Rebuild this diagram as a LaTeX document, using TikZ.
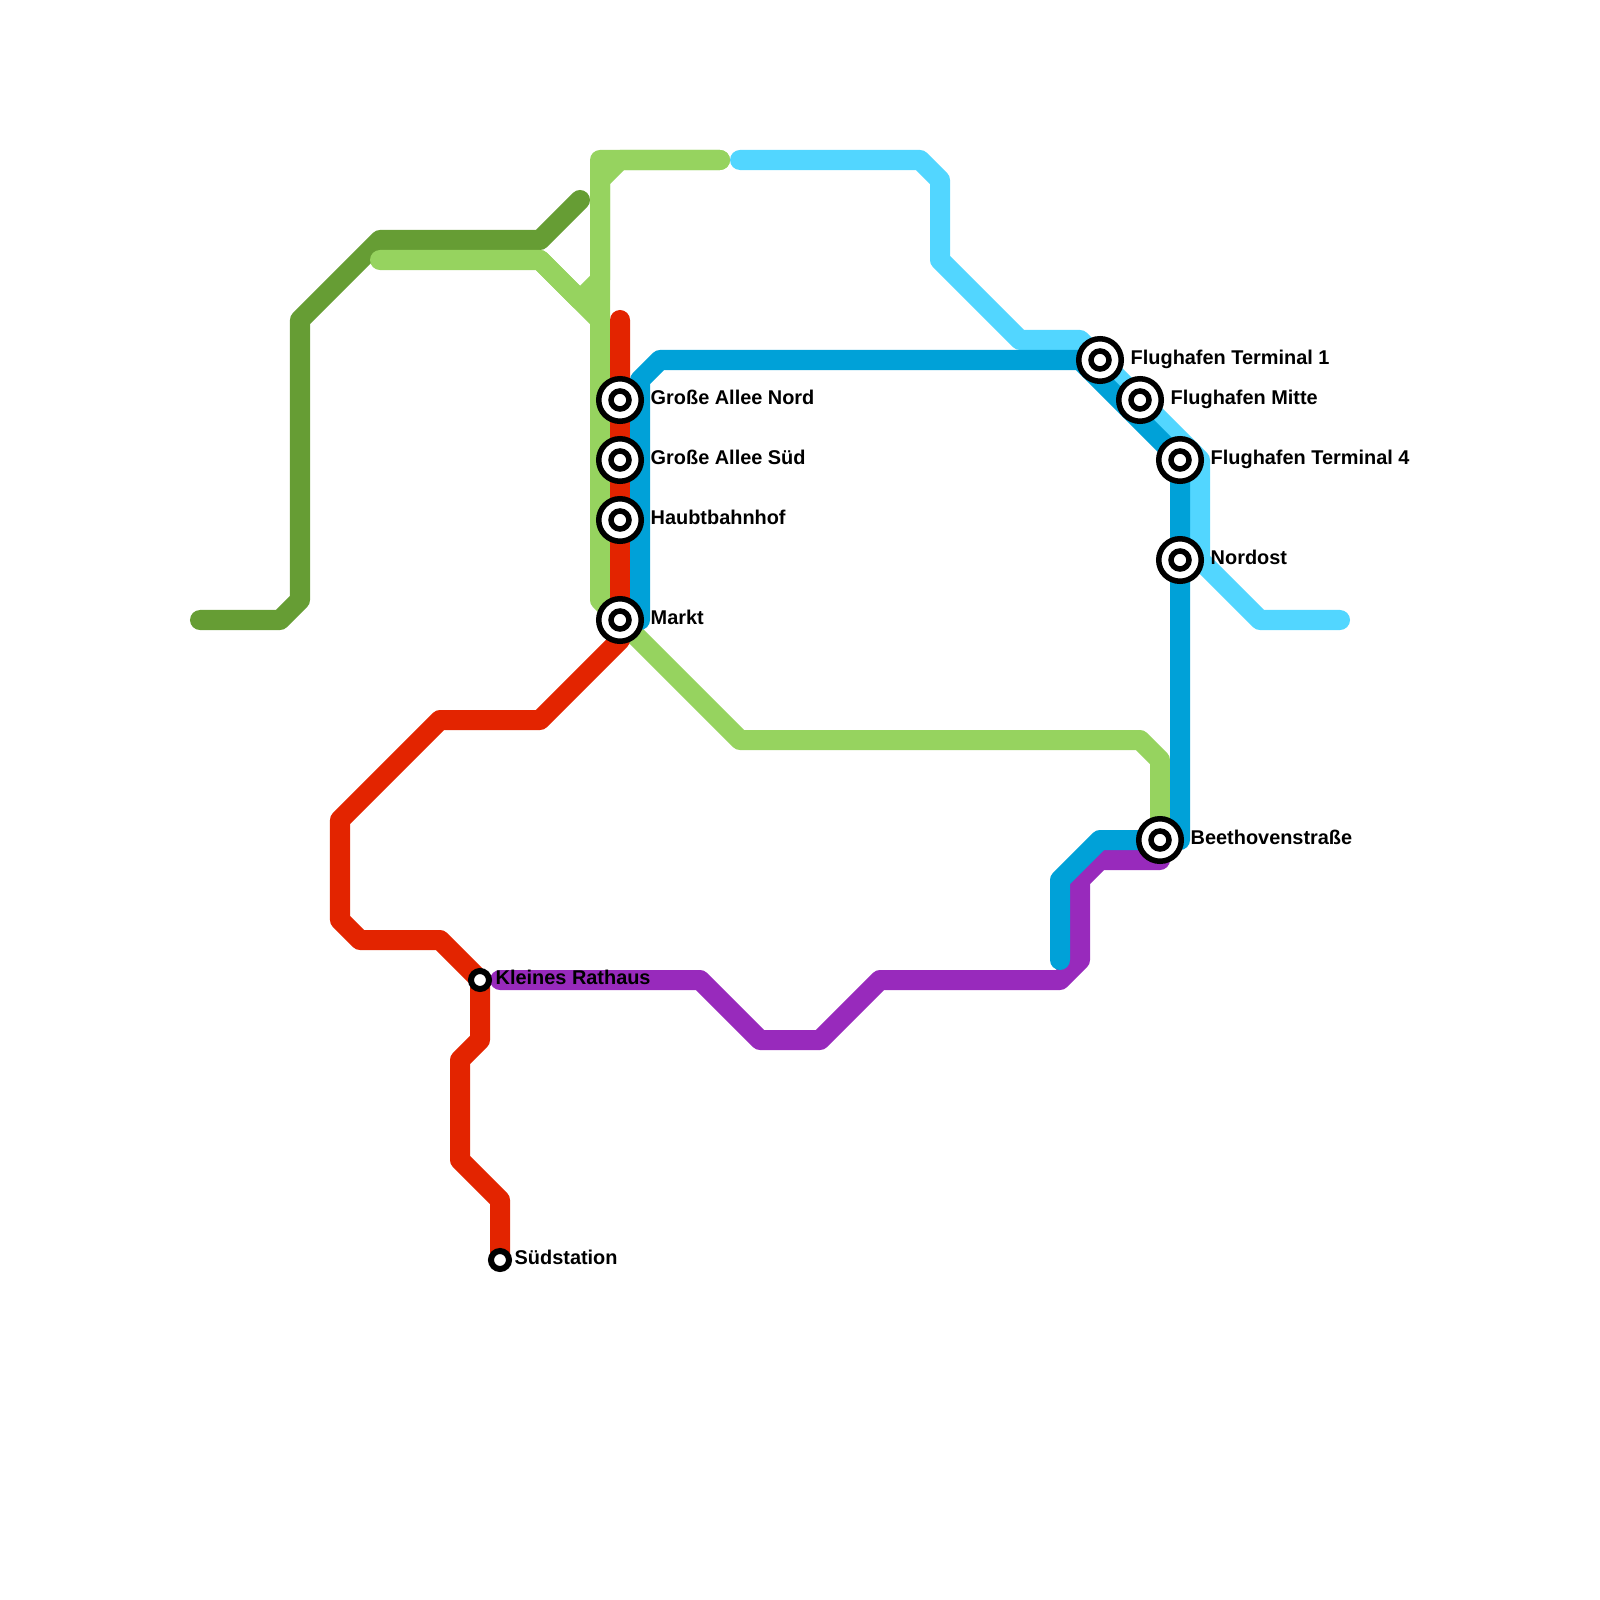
\documentclass[tikz,border=0pt]{standalone}
\usepackage{fontspec}
\setmainfont{Liberation Sans}
\usetikzlibrary{positioning}

\definecolor{redline}{HTML}{E32400}
\definecolor{blueline}{HTML}{00A1D8}
\definecolor{skyline}{HTML}{52D6FF}
\definecolor{limeline}{HTML}{96D35F}
\definecolor{mossline}{HTML}{669D34}
\definecolor{plumline}{HTML}{982ABC}

\begin{document}
\begin{tikzpicture}[
  x=0.01cm,y=-0.01cm,
  every node/.style={font=\fontsize{5.66pt}{6.5pt}\bfseries},
  track/.style={line width=0.2cm,line cap=round,line join=round},
  hub/.style={circle,draw=black,fill=white,line width=0.055cm,minimum size=0.425cm,inner sep=0pt,outer sep=0pt,
    path picture={\draw[line width=0.055cm,fill=white] (path picture bounding box.center) circle (9);}},
  stop/.style={circle,draw=black,fill=white,line width=0.06cm,minimum size=0.18cm,inner sep=0pt,outer sep=0pt},
  lbl/.style={inner sep=0pt,text height=0.15cm,text depth=0.06cm}
]
\useasboundingbox (0,0) rectangle (1600,1600);

\draw[track,mossline] (200,620) -- (280,620) -- (300,600) -- (300,320) -- (380,240) -- (540,240) -- (580,200);
\draw[track,limeline] (380,260) -- (540,260) -- (580,300) -- (600,280) -- (600,160) -- (720,160);
\draw[track,limeline] (540,260) -- (600,320);
\draw[track,limeline] (720,160) -- (620,160) -- (600,180) -- (600,600) -- (740,740) -- (1140,740) -- (1160,760) -- (1160,840);
\draw[track,skyline] (740,160) -- (920,160) -- (940,180) -- (940,260) -- (1020,340) -- (1080,340) -- (1200,460) -- (1200,560) -- (1260,620) -- (1340,620);
\draw[track,redline] (620,320) -- (620,640) -- (540,720) -- (440,720) -- (340,820) -- (340,920) -- (360,940) -- (440,940) -- (480,980) -- (480,1040) -- (460,1060) -- (460,1160) -- (500,1200) -- (500,1260);
\draw[track,plumline] (500,980) -- (700,980) -- (760,1040) -- (820,1040) -- (880,980) -- (1060,980) -- (1080,960) -- (1080,880) -- (1100,860) -- (1160,860);
\draw[track,blueline] (620,620) -- (640,620) -- (640,380) -- (660,360) -- (1080,360) -- (1180,460) -- (1180,840) -- (1100,840) -- (1060,880) -- (1060,960);

\node[hub] (alleenord) at (620,400) {};
\node[hub] (alleesued) at (620,460) {};
\node[hub] (haubt) at (620,520) {};
\node[hub] (markt) at (620,620) {};
\node[hub] (term1) at (1100,360) {};
\node[hub] (mitte) at (1140,400) {};
\node[hub] (term4) at (1180,460) {};
\node[hub] (nordost) at (1180,560) {};
\node[hub] (beethoven) at (1160,840) {};
\node[stop] (rathaus) at (480,980) {};
\node[stop] (suedst) at (500,1260) {};

\node[lbl, right=0.0875cm of alleenord] {Große Allee Nord};
\node[lbl, right=0.0875cm of alleesued] {Große Allee Süd};
\node[lbl, right=0.0875cm of haubt] {Haubtbahnhof};
\node[lbl, right=0.0875cm of markt] {Markt};
\node[lbl, right=0.0875cm of term1] {Flughafen Terminal 1};
\node[lbl, right=0.0875cm of mitte] {Flughafen Mitte};
\node[lbl, right=0.0875cm of term4] {Flughafen Terminal 4};
\node[lbl, right=0.0875cm of nordost] {Nordost};
\node[lbl, right=0.0875cm of beethoven] {Beethovenstraße};
\node[lbl, right=0.06cm of rathaus] {Kleines Rathaus};
\node[lbl, right=0.05cm of suedst] {Südstation};
\end{tikzpicture}
\end{document}
